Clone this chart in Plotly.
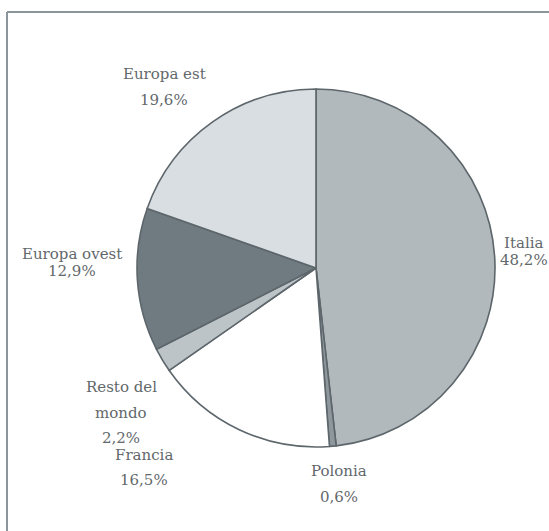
import plotly.graph_objects as go

# Share of the total by destination (clockwise from 12 o'clock)
regions = ["Italia", "Polonia", "Francia", "Resto del mondo", "Europa ovest", "Europa est"]
shares = [48.2, 0.6, 16.5, 2.2, 12.9, 19.6]
slice_colors = ["#b1b9bd", "#8d979c", "#ffffff", "#bcc4c8", "#6f7b81", "#d9dee2"]

W, H = 549, 531


def fmt(v):
    return f"{v:.1f}".replace(".", ",") + "%"


fig = go.Figure(
    go.Pie(
        labels=regions,
        values=shares,
        sort=False,
        direction="clockwise",
        rotation=0,
        marker=dict(colors=slice_colors, line=dict(color="#5d666b", width=1.6)),
        textinfo="none",
        hoverinfo="label+percent",
        domain=dict(x=[137 / W, 495 / W], y=[1 - 447 / H, 1 - 89 / H]),
        showlegend=False,
    )
)

# label text lines with their pixel centres
label_lines = {
    "Europa est": [("Europa est", 164, 74), (None, 164, 100)],
    "Italia": [("Italia", 523, 243), (None, 524, 260)],
    "Europa ovest": [("Europa ovest", 72, 254), (None, 72, 271)],
    "Resto del mondo": [("Resto del", 121, 387), ("mondo", 121, 413), (None, 121, 438)],
    "Francia": [("Francia", 144, 455), (None, 144, 480)],
    "Polonia": [("Polonia", 339, 471), (None, 339, 497)],
}

annotations = []
for name, val in zip(regions, shares):
    for text, px, py in label_lines[name]:
        annotations.append(
            dict(
                text=text if text is not None else fmt(val),
                x=px / W,
                y=1 - py / H,
                xref="paper",
                yref="paper",
                xanchor="center",
                yanchor="middle",
                showarrow=False,
                font=dict(family="DejaVu Serif, Liberation Serif, serif", size=15, color="#62686b"),
            )
        )

# frame lines along the top and left edges
shapes = [
    dict(type="line", xref="paper", yref="paper", x0=7 / W, x1=1, y0=1 - 12 / H, y1=1 - 12 / H,
         line=dict(color="#8c969a", width=2)),
    dict(type="line", xref="paper", yref="paper", x0=7 / W, x1=7 / W, y0=0, y1=1 - 12 / H,
         line=dict(color="#8c969a", width=2)),
]

fig.update_layout(
    width=W,
    height=H,
    margin=dict(l=0, r=0, t=0, b=0),
    paper_bgcolor="#ffffff",
    plot_bgcolor="#ffffff",
    annotations=annotations,
    shapes=shapes,
)

fig.write_html("out.html")
